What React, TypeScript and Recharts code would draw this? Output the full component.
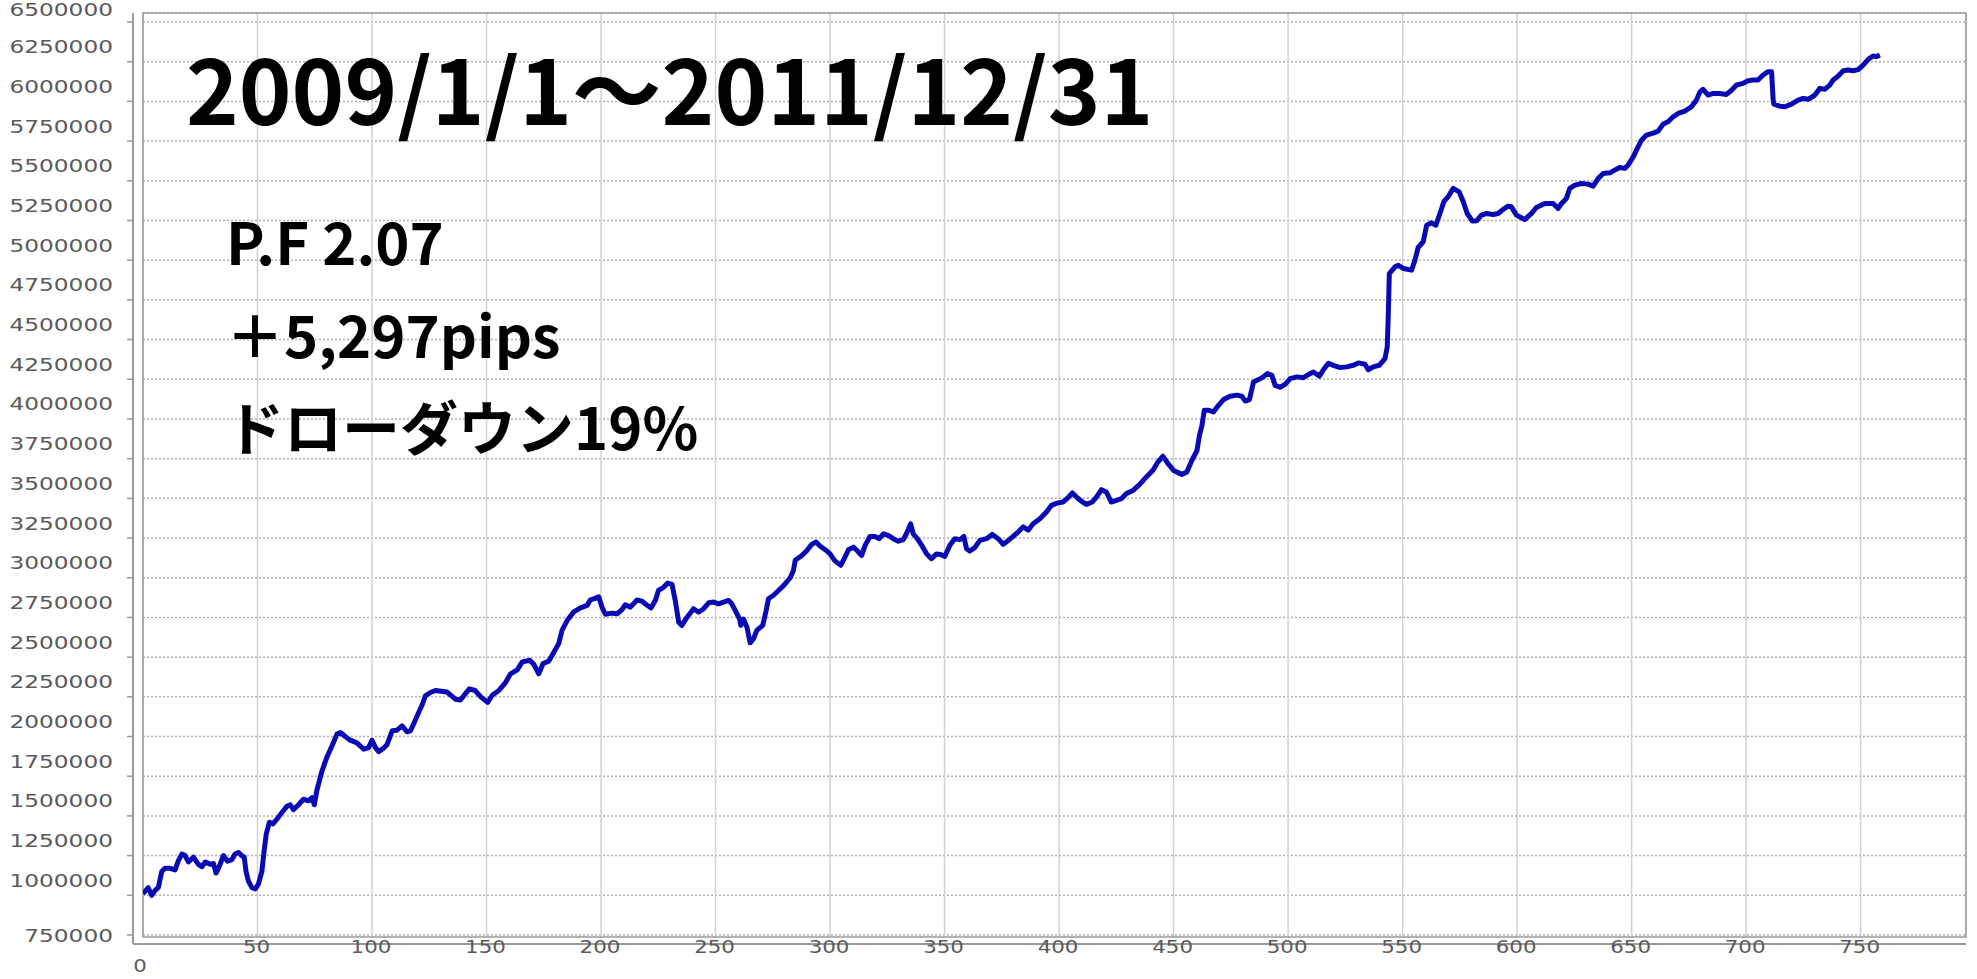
import { CartesianGrid, Line, LineChart, ReferenceArea, XAxis, YAxis } from 'recharts'

// trade count
const steps = [
  0, 2.3, 3.8, 5.2, 6.7, 8.2, 9.6, 11.8, 14, 15.5, 17, 18.4, 19.8, 22, 24.2, 25.7, 27.2, 29.3, 30.8, 31.9,
  33.4, 35.1, 36.9, 38.8, 40.2, 41.7, 43.1, 44.2, 45, 46, 47.5, 49, 50.4, 51.9, 52.9, 53.8, 55.2, 56.7, 58.5,
  60.6, 62.8, 64.3, 65.7, 67.9, 70.1, 72.3, 73.8, 74.8, 75.9, 78.1, 80.3, 82.5, 84.7, 86.2, 88.3, 90.5, 93.4,
  96.4, 98.5, 100, 101.5, 102.9, 105.1, 106.6, 108.8, 110.9, 113.1, 115.3, 116.8, 118.2, 119.7, 121.9, 123.3,
  125.5, 127.7, 132.8, 136.4, 138.6, 140.8, 142.5, 145, 147.5, 150.5, 152.5, 155.4, 158.3, 160.5, 163.4, 165.6,
  168.9, 170.6, 172.8, 174.7, 177.2, 179.4, 181.5, 183, 185.2, 188.1, 191, 193.9, 195.3, 197.5, 199, 200.4,
  201.9, 204.8, 207, 209.2, 210.6, 212.8, 215.7, 217.9, 219.8, 221.8, 223.7, 225.1, 227.3, 229.1, 231, 232.4,
  233.9, 235.3, 237.5, 240.4, 242.6, 244.8, 247, 249.2, 251.3, 253.5, 255.7, 257.1, 258.6, 260.5, 261, 262.2,
  263.7, 265.1, 266.6, 268, 270.6, 272.1, 273.1, 275.3, 277.5, 279.7, 282.6, 284, 284.8, 287.7, 289.8, 292,
  293.9, 295.6, 298.5, 300, 302.2, 304.7, 306.5, 308, 310.2, 311.9, 313.8, 315.3, 317.4, 319.6, 321.5, 323.3,
  325.4, 327.6, 329.8, 332, 333.7, 335.2, 336.3, 338.1, 340, 342.2, 344.3, 346.5, 348.3, 350.1, 352.3, 354.5,
  356.7, 358.4, 359.6, 361, 363.2, 365.4, 368.3, 370.9, 373.4, 375.6, 377.8, 379.9, 382.1, 384.3, 386.5, 388.7,
  391.6, 394.5, 396.7, 399.1, 401.7, 403.5, 405.8, 407.6, 409.7, 411.9, 414.5, 416.3, 418.5, 420.6, 422.8, 425,
  427.2, 429.4, 432.3, 435.2, 438.1, 441, 443.2, 445.3, 447.5, 450, 453.6, 455.8, 458, 460.2, 461.3, 462.4,
  463.4, 465.3, 467.4, 469.6, 471.8, 474.7, 477.6, 479.8, 481.3, 483.1, 484.9, 487.1, 489.2, 491, 492.9, 494.3,
  496.5, 498.7, 500.9, 503.8, 506.7, 508.9, 511, 513.7, 515.4, 517.6, 519.8, 522.7, 525.6, 528.5, 530.7, 533.6,
  535, 537.2, 539.8, 542.3, 543.3, 543.8, 544.2, 546.7, 548.1, 550.3, 553.9, 555.4, 556.8, 559, 560.5, 562.6,
  564.5, 566.3, 568, 569.9, 572.1, 574.7, 576.5, 578.2, 580.5, 582.3, 584.4, 586.6, 589.5, 591.7, 593.9, 596.1,
  597.5, 599.7, 603.3, 606.3, 608.4, 612.1, 615.7, 617.9, 619.4, 621.5, 623, 625.2, 628.1, 631, 633.2, 635.4,
  637.6, 640.5, 642.6, 644.8, 647, 648.5, 650.7, 652.8, 654.3, 656.5, 659.4, 661.6, 663.8, 665.9, 668.1, 670.3,
  673.2, 676.1, 678.3, 679.8, 681.2, 683.4, 685.6, 688.5, 691.4, 693.6, 695.8, 698.7, 700.9, 703.1, 705.2,
  707.4, 709.6, 711.1, 711.8, 712.1, 714.7, 716.9, 719.8, 722.7, 724.9, 727.1, 730, 732.2, 734.3, 736.5, 738,
  740.2, 742.4, 744.5, 746.7, 748.9, 751.1, 753.3, 755.4, 756.9, 758.4,
]

// account balance
const equity = [
  1010000, 1048000, 1000000, 1030000, 1050000, 1150000, 1170000, 1170000, 1160000, 1220000, 1260000, 1250000,
  1210000, 1240000, 1195000, 1180000, 1210000, 1195000, 1200000, 1140000, 1185000, 1250000, 1215000, 1225000,
  1260000, 1270000, 1250000, 1240000, 1150000, 1090000, 1050000, 1040000, 1070000, 1150000, 1280000, 1385000,
  1460000, 1450000, 1480000, 1520000, 1560000, 1570000, 1540000, 1570000, 1605000, 1595000, 1615000, 1570000,
  1660000, 1780000, 1870000, 1940000, 2015000, 2025000, 2000000, 1977000, 1960000, 1920000, 1930000, 1977000,
  1930000, 1905000, 1927000, 1950000, 2036000, 2040000, 2067000, 2030000, 2036000, 2080000, 2130000, 2200000,
  2256000, 2277000, 2290000, 2280000, 2235000, 2230000, 2270000, 2300000, 2290000, 2250000, 2215000, 2260000,
  2290000, 2340000, 2395000, 2420000, 2470000, 2480000, 2455000, 2395000, 2460000, 2475000, 2530000, 2585000,
  2670000, 2730000, 2785000, 2810000, 2826000, 2860000, 2870000, 2880000, 2815000, 2770000, 2777000, 2773000,
  2800000, 2830000, 2815000, 2860000, 2853000, 2830000, 2810000, 2857000, 2920000, 2940000, 2966000, 2958000,
  2857000, 2720000, 2700000, 2750000, 2805000, 2783000, 2805000, 2842000, 2847000, 2836000, 2847000, 2857000,
  2836000, 2794000, 2740000, 2700000, 2740000, 2690000, 2590000, 2616000, 2668000, 2700000, 2794000, 2868000,
  2890000, 2920000, 2950000, 3000000, 3046000, 3110000, 3140000, 3170000, 3210000, 3225000, 3200000, 3170000,
  3150000, 3105000, 3078000, 3130000, 3176000, 3193000, 3170000, 3140000, 3204000, 3260000, 3260000, 3246000,
  3277000, 3267000, 3246000, 3230000, 3240000, 3288000, 3340000, 3277000, 3246000, 3204000, 3150000, 3120000,
  3150000, 3147000, 3134000, 3204000, 3246000, 3240000, 3260000, 3183000, 3168000, 3190000, 3235000, 3246000,
  3273000, 3246000, 3210000, 3235000, 3260000, 3288000, 3320000, 3300000, 3340000, 3372000, 3414000, 3456000,
  3470000, 3477000, 3498000, 3534000, 3508000, 3483000, 3462000, 3477000, 3508000, 3555000, 3540000, 3477000,
  3487000, 3498000, 3530000, 3550000, 3588000, 3635000, 3677000, 3730000, 3765000, 3720000, 3676000, 3651000,
  3666000, 3740000, 3800000, 3897000, 3960000, 4055000, 4055000, 4044000, 4086000, 4122000, 4143000, 4150000,
  4143000, 4113000, 4122000, 4233000, 4248000, 4265000, 4286000, 4275000, 4212000, 4200000, 4218000, 4254000,
  4265000, 4260000, 4280000, 4296000, 4270000, 4310000, 4350000, 4338000, 4324000, 4328000, 4338000, 4353000,
  4345000, 4310000, 4328000, 4338000, 4380000, 4454000, 4685000, 4916000, 4958000, 4968000, 4948000, 4937000,
  5000000, 5080000, 5116000, 5220000, 5235000, 5220000, 5294000, 5368000, 5400000, 5452000, 5430000, 5368000,
  5294000, 5246000, 5248000, 5284000, 5294000, 5288000, 5294000, 5320000, 5340000, 5336000, 5284000, 5256000,
  5294000, 5332000, 5357000, 5357000, 5326000, 5357000, 5389000, 5452000, 5473000, 5483000, 5479000, 5466000,
  5515000, 5546000, 5550000, 5567000, 5584000, 5578000, 5600000, 5651000, 5714000, 5756000, 5788000, 5800000,
  5813000, 5857000, 5872000, 5903000, 5924000, 5939000, 5966000, 6008000, 6060000, 6076000, 6040000, 6050000,
  6050000, 6044000, 6070000, 6103000, 6114000, 6130000, 6135000, 6135000, 6166000, 6187000, 6187000, 6008000,
  5983000, 5970000, 5966000, 5983000, 6008000, 6019000, 6013000, 6040000, 6082000, 6076000, 6103000, 6135000,
  6160000, 6193000, 6198000, 6193000, 6200000, 6229000, 6265000, 6286000, 6282000, 6292000,
]

const xTicks = [0, 50, 100, 150, 200, 250, 300, 350, 400, 450, 500, 550, 600, 650, 700, 750]
const yTicks = [
  750000, 1000000, 1250000, 1500000, 1750000, 2000000, 2250000, 2500000, 2750000, 3000000, 3250000, 3500000,
  3750000, 4000000, 4250000, 4500000, 4750000, 5000000, 5250000, 5500000, 5750000, 6000000, 6250000, 6500000,
]
const xDomain = [0, 796]
const yDomain = [737400, 6556700]

const title = '2009/1/1～2011/12/31'
const notes = ['P.F 2.07', '＋5,297pips', 'ドローダウン19%']

const rows = steps.map((step, i) => ({ step, equity: equity[i] }))

const axisFont = '"DejaVu Sans", Verdana, sans-serif'
const labelFont = '"Noto Sans CJK JP", "Noto Sans", sans-serif'

function YTick({ x, y, payload }: any) {
  const label = String(payload.value)
  let base = y - 8.5
  if (payload.value === yTicks[0]) base = y + 7
  if (payload.value === yTicks[yTicks.length - 1]) base = y - 6
  return (
    <text
      x={x}
      y={base}
      textAnchor="end"
      fill="#5a5a5a"
      fontFamily={axisFont}
      fontSize={18.5}
      textLength={label.length * 14.8}
      lengthAdjust="spacingAndGlyphs"
    >
      {label}
    </text>
  )
}

function XTick({ x, y, payload }: any) {
  const label = String(payload.value)
  const base = payload.value === 0 ? y + 20 : y + 1
  return (
    <text
      x={payload.value === 0 ? x - 3 : x - 1}
      y={base}
      textAnchor="middle"
      fill="#5a5a5a"
      fontFamily={axisFont}
      fontSize={17}
      textLength={label.length * 13.6}
      lengthAdjust="spacingAndGlyphs"
    >
      {label}
    </text>
  )
}

export default function App() {
  return (
    <div style={{ position: 'relative', width: 1977, height: 979, background: '#fff' }}>
      <style>{'body{margin:0}'}</style>
      <LineChart width={1977} height={979} data={rows} margin={{ top: 13, right: 11, left: 0, bottom: 0 }}>
        <CartesianGrid
          x={143}
          y={13}
          width={1823}
          height={924}
          vertical={false}
          stroke="#b0b0b0"
          strokeWidth={1.5}
          strokeDasharray="2 2"
        />
        <CartesianGrid x={143} y={13} width={1823} height={924} horizontal={false} stroke="#d2d2d2" strokeWidth={1.5} />
        <XAxis
          dataKey="step"
          type="number"
          domain={xDomain}
          ticks={xTicks}
          allowDataOverflow
          padding={{ left: 10, right: 0 }}
          height={35}
          tickSize={6}
          tickMargin={2}
          tickLine={false}
          axisLine={{ stroke: '#9a9a9a', strokeWidth: 2 }}
          tick={<XTick />}
          interval={0}
        />
        <YAxis
          type="number"
          domain={yDomain}
          ticks={yTicks}
          allowDataOverflow
          padding={{ top: 0, bottom: 7 }}
          width={133}
          tickSize={6}
          tickMargin={14}
          tickLine={{ stroke: '#9a9a9a', strokeWidth: 1.5 }}
          axisLine={{ stroke: '#9a9a9a', strokeWidth: 2 }}
          tick={<YTick />}
          interval={0}
        />
        <ReferenceArea
          x1={xDomain[0]}
          x2={xDomain[1]}
          y1={yDomain[0]}
          y2={yDomain[1]}
          fill="none"
          stroke="#9a9a9a"
          strokeWidth={1.5}
          ifOverflow="visible"
        />
        <Line
          type="linear"
          dataKey="equity"
          stroke="#0a0ab4"
          strokeWidth={5}
          strokeLinejoin="round"
          dot={false}
          isAnimationActive={false}
        />
      </LineChart>
      <svg width={1977} height={979} style={{ position: 'absolute', left: 0, top: 0, pointerEvents: 'none' }}>
        <text x={186} y={125} fontFamily={labelFont} fontWeight={700} fontSize={89.5} fill="#000">
          {title}
        </text>
        {notes.map((note, i) => (
          <text key={note} x={226} y={265 + i * 92.5} fontFamily={labelFont} fontWeight={700} fontSize={58} fill="#000">
            {note}
          </text>
        ))}
      </svg>
    </div>
  )
}
